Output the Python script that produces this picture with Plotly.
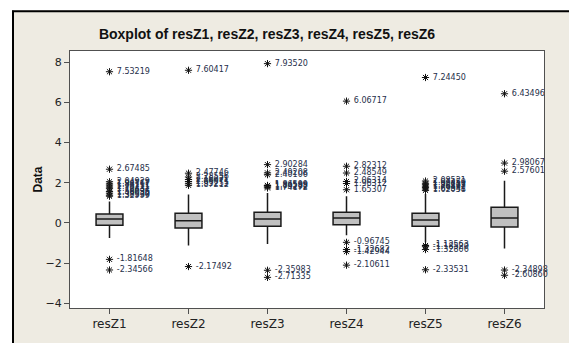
import plotly.graph_objects as go

categories = ["resZ1", "resZ2", "resZ3", "resZ4", "resZ5", "resZ6"]
q1 = [-0.12, -0.25, -0.17, -0.09, -0.17, -0.20]
median = [0.20, 0.11, 0.19, 0.24, 0.15, 0.25]
q3 = [0.44, 0.48, 0.53, 0.53, 0.48, 0.78]
lower_whisker = [-0.75, -1.13, -1.05, -0.62, -0.97, -1.28]
upper_whisker = [1.07, 1.41, 1.49, 1.33, 1.44, 2.10]

out_resZ1 = [7.53219, 2.67485, 2.04929, 1.94767, 1.88111, 1.78211, 1.70431,
             1.56096, 1.48035, 1.38530, 1.32999, -1.81648, -2.34566]
out_resZ2 = [7.60417, 2.47746, 2.28556, 2.16071, 2.06071, 1.95255, 1.87212, -2.17492]
out_resZ3 = [7.93520, 2.90284, 2.49208, 2.40106, 1.86599, 1.84588, 1.79292,
             1.74172, -2.35983, -2.71335]
out_resZ4 = [6.06717, 2.82312, 2.48549, 2.06314, 1.96312, 1.65307, -0.96745,
             -1.32682, -1.42944, -2.10611]
out_resZ5 = [7.24450, 2.08521, 1.97450, 1.90233, 1.83117, 1.76892, 1.69341,
             1.62058, -1.12563, -1.18520, -1.32806, -2.33531]
out_resZ6 = [6.43496, 2.98067, 2.57601, -2.34898, -2.60860]
outliers = [out_resZ1, out_resZ2, out_resZ3, out_resZ4, out_resZ5, out_resZ6]

y_ticks = [-4, -2, 0, 2, 4, 6, 8]

BEIGE = "#EEEBE2"

fig = go.Figure()
fig.add_trace(go.Box(
    x=categories, q1=q1, median=median, q3=q3,
    lowerfence=lower_whisker, upperfence=upper_whisker,
    boxpoints=False, fillcolor="#C0C0C0",
    line=dict(color="#1a1a1a", width=1.5),
    whiskerwidth=0, width=0.34, showlegend=False, hoverinfo="skip",
))

ox, oy, ot = [], [], []
for cat, vals in zip(categories, outliers):
    for v in vals:
        ox.append(cat)
        oy.append(v)
        ot.append(f" {v:.5f}")

fig.add_trace(go.Scatter(
    x=ox, y=oy, mode="markers+text", text=ot, textposition="middle right",
    marker=dict(symbol="asterisk-open", size=6, color="#111",
                line=dict(color="#111", width=1)),
    textfont=dict(family="DejaVu Sans", size=8, color="#26304a"),
    showlegend=False, cliponaxis=False, hoverinfo="skip",
))

L, R, T, B = 70, 25, 51, 27
W, H = 569 - L - R, 343 - T - B

def px(xp):
    return (xp - L) / W

def py(yp):
    return (343 - B - yp) / H

shapes = [
    dict(type="rect", xref="paper", yref="paper", x0=px(-5), x1=px(12), y0=py(400), y1=py(-5),
         fillcolor="white", line=dict(width=0), layer="below"),
    dict(type="rect", xref="paper", yref="paper", x0=px(-5), x1=px(600), y0=py(9), y1=py(-5),
         fillcolor="white", line=dict(width=0), layer="below"),
    dict(type="line", xref="paper", yref="paper", x0=px(13), x1=px(13), y0=py(400), y1=py(9.5),
         line=dict(color="black", width=2)),
    dict(type="line", xref="paper", yref="paper", x0=px(12), x1=px(600), y0=py(10), y1=py(10),
         line=dict(color="black", width=2)),
]

fig.update_layout(
    width=569, height=343,
    margin=dict(l=L, r=R, t=T, b=B),
    paper_bgcolor=BEIGE, plot_bgcolor="white",
    shapes=shapes,
    title=dict(text="<b>Boxplot of resZ1, resZ2, resZ3, resZ4, resZ5, resZ6</b>",
               x=267 / 569, xanchor="center", y=1 - 34 / 343, yanchor="middle",
               xref="container", yref="container",
               font=dict(family="Liberation Sans", size=14, color="#111")),
    xaxis=dict(type="category", range=[-0.5, 5.5], showline=True, mirror=True,
               linecolor="#505050", linewidth=1, ticks="outside", ticklen=5,
               tickcolor="#505050", showgrid=False,
               tickfont=dict(family="DejaVu Sans", size=12, color="#222")),
    yaxis=dict(range=[-4.24, 8.565], tickvals=y_ticks, showline=True, mirror=True,
               linecolor="#505050", linewidth=1, ticks="outside", ticklen=5,
               tickcolor="#505050", showgrid=False, zeroline=False,
               tickfont=dict(family="DejaVu Sans", size=11, color="#222")),
    annotations=[dict(text="<b>Data</b>", textangle=-90, xref="paper", yref="paper",
                      x=px(37), y=0.5, showarrow=False, xanchor="center", yanchor="middle",
                      font=dict(family="Liberation Sans", size=12, color="#111"))],
)

fig.write_html(
    "out.html",
    config={"displayModeBar": False},
    post_script="document.body.style.margin='0';document.body.style.padding='0';",
)
